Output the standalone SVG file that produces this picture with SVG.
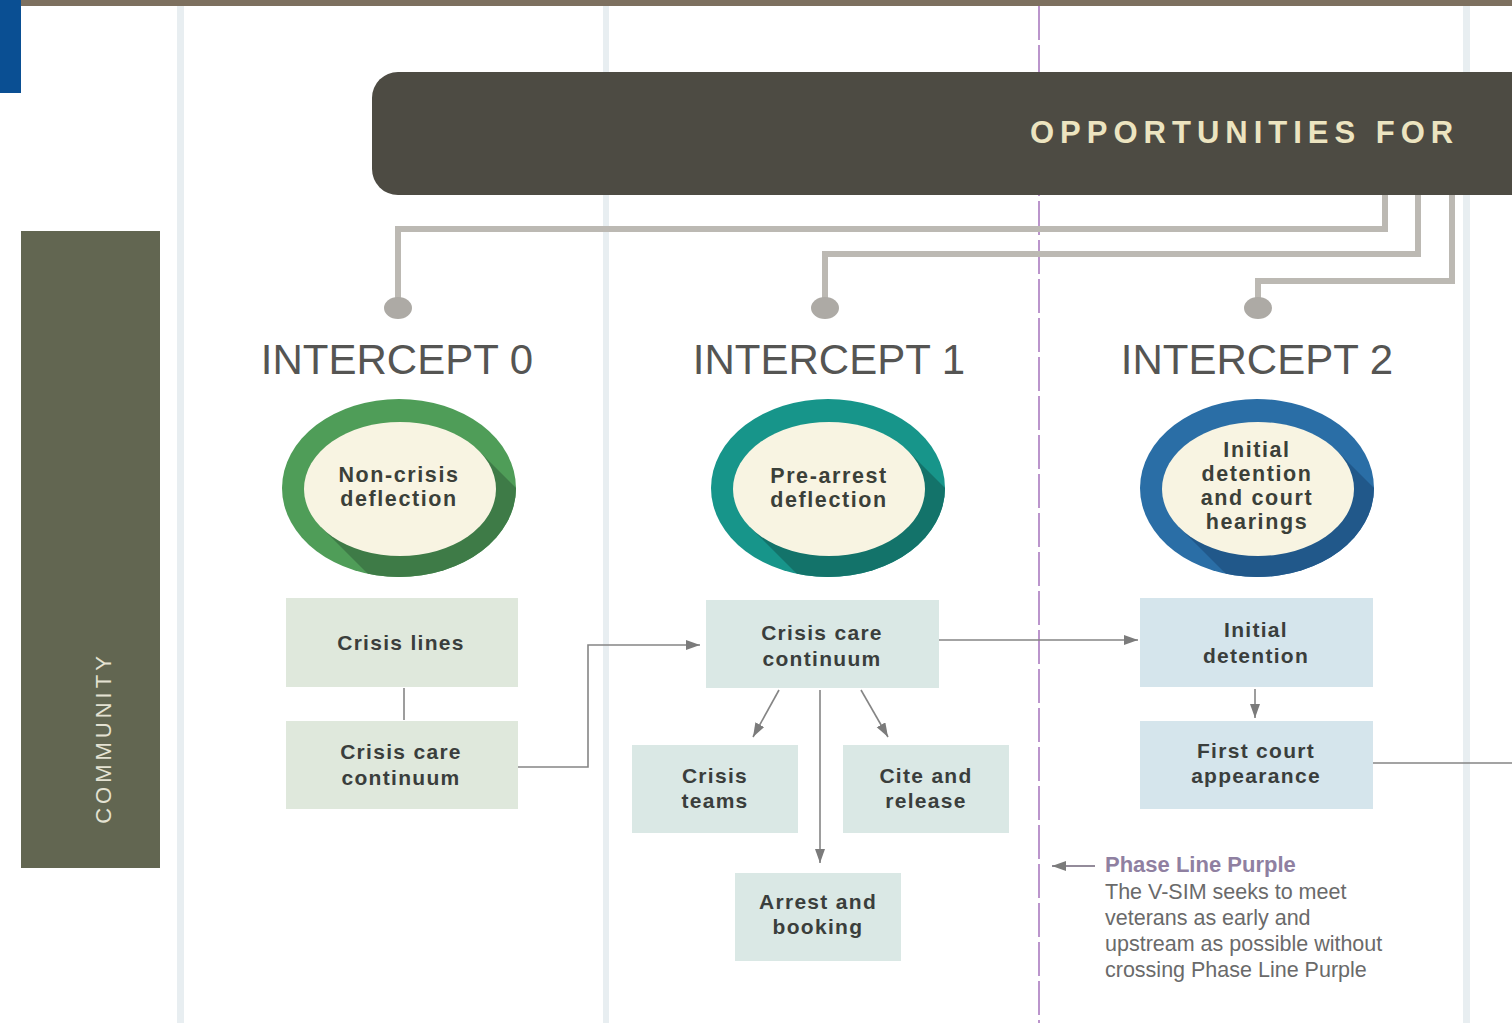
<svg xmlns="http://www.w3.org/2000/svg" width="1512" height="1023" viewBox="0 0 1512 1023">
<defs>
<style>
.lane{fill:#e8eef1}
.feed{fill:none;stroke:#bcb9b3;stroke-width:6}
.dot{fill:#adaaa5}
.head{font-family:"Liberation Sans",Arial,sans-serif;font-size:42px;fill:#555553;text-anchor:middle}
.ctext{font-family:"Liberation Sans",Arial,sans-serif;font-weight:bold;font-size:21.5px;letter-spacing:1.6px;fill:#3b4039;text-anchor:middle}
.btext{font-family:"Liberation Sans",Arial,sans-serif;font-weight:bold;font-size:21px;letter-spacing:1.3px;fill:#3a3e3c;text-anchor:middle}
.inner{fill:#f8f4e2}
.b0{fill:#dfe8dc}
.b1{fill:#dae8e5}
.b2{fill:#d5e5ec}
.conn{fill:none;stroke:#858585;stroke-width:1.6}
.note{font-family:"Liberation Sans",Arial,sans-serif;font-size:21.5px;fill:#6a6a6a}
</style>
<marker id="ah" markerUnits="userSpaceOnUse" markerWidth="15" markerHeight="11" refX="14" refY="5" orient="auto">
<path d="M0,0 L14,5 L0,10 z" fill="#7b7b7b"/>
</marker>
<clipPath id="c0"><ellipse cx="399" cy="488" rx="117" ry="89"/></clipPath>
<clipPath id="c1"><ellipse cx="828" cy="488" rx="117" ry="89"/></clipPath>
<clipPath id="c2"><ellipse cx="1257" cy="488" rx="117" ry="89"/></clipPath>
</defs>
<rect width="1512" height="1023" fill="#ffffff"/>
<rect class="lane" x="177" y="0" width="7" height="1023"/>
<rect class="lane" x="603" y="0" width="6" height="1023"/>
<rect class="lane" x="1463" y="0" width="7" height="1023"/>
<line x1="1039" y1="6" x2="1039" y2="1023" stroke="#bb95cc" stroke-width="2" stroke-dasharray="34 5"/>
<rect x="0" y="0" width="1512" height="6" fill="#7d705f"/>
<rect x="0" y="0" width="21" height="93" fill="#0a4f93"/>
<g id="community">
<rect x="21" y="231" width="139" height="637" fill="#626651"/>
<text transform="translate(111,738) rotate(-90)" font-family="'Liberation Sans',Arial,sans-serif" font-size="22" letter-spacing="4" fill="#e4e2d2" text-anchor="middle">COMMUNITY</text>
</g>
<g id="banner">
<rect x="372" y="72" width="1200" height="123" rx="26" fill="#4d4b43"/>
<text x="1030" y="143" font-family="'Liberation Sans',Arial,sans-serif" font-size="31" font-weight="bold" letter-spacing="6" fill="#ece4c0">OPPORTUNITIES FOR</text>
</g>
<g id="connectors">
<path class="feed" d="M1385,195 V229 H398 V300"/>
<path class="feed" d="M1418,195 V254 H825 V300"/>
<path class="feed" d="M1452,195 V281 H1258 V300"/>
<ellipse class="dot" cx="398" cy="308" rx="14" ry="11"/>
<ellipse class="dot" cx="825" cy="308" rx="14" ry="11"/>
<ellipse class="dot" cx="1258" cy="308" rx="14" ry="11"/>
<line class="conn" x1="404" y1="688" x2="404" y2="720"/>
<path class="conn" d="M518,767 H588 V645 H700" marker-end="url(#ah)"/>
<line class="conn" x1="779" y1="690" x2="753" y2="737" marker-end="url(#ah)"/>
<line class="conn" x1="861" y1="690" x2="888" y2="737" marker-end="url(#ah)"/>
<line class="conn" x1="820" y1="690" x2="820" y2="863" marker-end="url(#ah)"/>
<line class="conn" x1="939" y1="640" x2="1138" y2="640" marker-end="url(#ah)"/>
<line class="conn" x1="1255" y1="689" x2="1255" y2="718" marker-end="url(#ah)"/>
<line class="conn" x1="1373" y1="763" x2="1512" y2="763"/>
<line x1="1095" y1="866" x2="1052" y2="866" stroke="#6f6578" stroke-width="1.6" marker-end="url(#ah)"/>
</g>
<g id="intercept0">
<text class="head" x="397" y="374">INTERCEPT 0</text>
<ellipse cx="399" cy="488" rx="117" ry="89" fill="#4f9d58"/>
<path clip-path="url(#c0)" d="M479,451 L679,651 L521,727 L321,527 z" fill="#3e7b47"/>
<ellipse class="inner" cx="400" cy="489" rx="96" ry="67"/>
<text class="ctext" x="399" y="482">Non-crisis</text>
<text class="ctext" x="399" y="506">deflection</text>
</g>
<g id="crisis-lines">
<rect class="b0" x="286" y="598" width="232" height="89"/>
<text class="btext" x="401" y="650">Crisis lines</text>
</g>
<g id="crisis-care-0">
<rect class="b0" x="286" y="721" width="232" height="88"/>
<text class="btext" x="401" y="759">Crisis care</text>
<text class="btext" x="401" y="785">continuum</text>
</g>
<g id="intercept1">
<text class="head" x="829" y="374">INTERCEPT 1</text>
<ellipse cx="828" cy="488" rx="117" ry="89" fill="#17958a"/>
<path clip-path="url(#c1)" d="M908,451 L1108,651 L950,727 L750,527 z" fill="#13736a"/>
<ellipse class="inner" cx="829" cy="489" rx="96" ry="67"/>
<text class="ctext" x="829" y="483">Pre-arrest</text>
<text class="ctext" x="829" y="507">deflection</text>
</g>
<g id="crisis-care-1">
<rect class="b1" x="706" y="600" width="233" height="88"/>
<text class="btext" x="822" y="640">Crisis care</text>
<text class="btext" x="822" y="666">continuum</text>
</g>
<g id="crisis-teams">
<rect class="b1" x="632" y="745" width="166" height="88"/>
<text class="btext" x="715" y="783">Crisis</text>
<text class="btext" x="715" y="808">teams</text>
</g>
<g id="cite-release">
<rect class="b1" x="843" y="745" width="166" height="88"/>
<text class="btext" x="926" y="783">Cite and</text>
<text class="btext" x="926" y="808">release</text>
</g>
<g id="arrest-booking">
<rect class="b1" x="735" y="873" width="166" height="88"/>
<text class="btext" x="818" y="909">Arrest and</text>
<text class="btext" x="818" y="934">booking</text>
</g>
<g id="intercept2">
<text class="head" x="1257" y="374">INTERCEPT 2</text>
<ellipse cx="1257" cy="488" rx="117" ry="89" fill="#2a6ea6"/>
<path clip-path="url(#c2)" d="M1337,451 L1537,651 L1379,727 L1179,527 z" fill="#21588a"/>
<ellipse class="inner" cx="1258" cy="489" rx="96" ry="67"/>
<text class="ctext" x="1257" y="457">Initial</text>
<text class="ctext" x="1257" y="481">detention</text>
<text class="ctext" x="1257" y="505">and court</text>
<text class="ctext" x="1257" y="529">hearings</text>
</g>
<g id="initial-detention">
<rect class="b2" x="1140" y="598" width="233" height="89"/>
<text class="btext" x="1256" y="637">Initial</text>
<text class="btext" x="1256" y="663">detention</text>
</g>
<g id="first-court">
<rect class="b2" x="1140" y="721" width="233" height="88"/>
<text class="btext" x="1256" y="758">First court</text>
<text class="btext" x="1256" y="783">appearance</text>
</g>
<g id="phase-note">
<text x="1105" y="872" font-family="'Liberation Sans',Arial,sans-serif" font-size="22" font-weight="bold" fill="#8f80a1">Phase Line Purple</text>
<text class="note" x="1105" y="899">The V-SIM seeks to meet</text>
<text class="note" x="1105" y="925">veterans as early and</text>
<text class="note" x="1105" y="951">upstream as possible without</text>
<text class="note" x="1105" y="977">crossing Phase Line Purple</text>
</g>
</svg>
